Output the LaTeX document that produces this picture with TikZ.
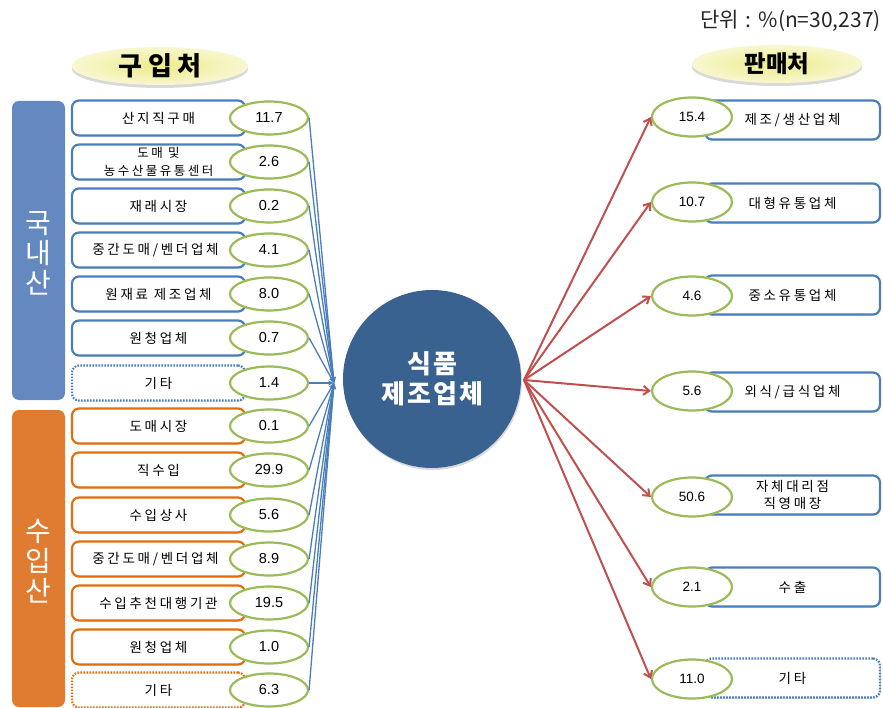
\documentclass[tikz,border=0pt]{standalone}
\usepackage{fontspec}
\setmainfont{Liberation Sans}
\newfontfamily\kr{Noto Sans CJK KR}
\newfontfamily\krs[LetterSpace=20]{Noto Sans CJK KR}
\newfontfamily\krc[LetterSpace=8]{Noto Sans CJK KR}
\usetikzlibrary{shapes.geometric,arrows.meta,shadows}
\definecolor{boxblue}{HTML}{4A7EBB}
\definecolor{boxorange}{HTML}{E46C0A}
\definecolor{barblue}{HTML}{6489C0}
\definecolor{barorange}{HTML}{E07C32}
\definecolor{valgreen}{HTML}{9BBB59}
\definecolor{linkblue}{HTML}{4A7EBB}
\definecolor{linkred}{HTML}{C0504D}
\definecolor{circblue}{HTML}{3A6291}
\definecolor{titleyel}{HTML}{EDEB8A}
\newcommand\labfont{\krs\fontsize{13.5}{17}\selectfont}
\newcommand\numfontL{\fontsize{14.5}{16}\selectfont}
\newcommand\numfontR{\fontsize{13.5}{15}\selectfont}
\begin{document}
\begin{tikzpicture}[x=1pt,y=-1pt,
  lbox/.style={draw=boxblue,line width=2.2pt,rounded corners=7pt,fill=white,
    minimum width=173pt,minimum height=35pt,inner sep=0pt,align=center,font=\labfont,
    drop shadow={opacity=0.25,shadow xshift=0.8pt,shadow yshift=-1.2pt}},
  obox/.style={lbox,draw=boxorange},
  rbox/.style={lbox,minimum width=175pt,minimum height=39pt},
  dotline/.style={dash pattern=on 1.6pt off 1.4pt},
  lval/.style={ellipse,draw=valgreen,line width=2.2pt,fill=white,minimum width=78pt,
    minimum height=33pt,inner sep=0pt,font=\numfontL},
  rval/.style={lval,minimum width=80pt,minimum height=39pt,font=\numfontR},
  sidebar/.style={rounded corners=7pt,minimum width=53pt,inner sep=0pt},
  bartext/.style={text=white,align=center,font=\kr\fontsize{28}{30}\selectfont},
  titell/.style={ellipse,inner color=titleyel,outer color=titleyel!40!white,
    minimum width=176pt,minimum height=38pt,inner sep=0pt,
    drop shadow={opacity=0.3,shadow xshift=0pt,shadow yshift=-3pt}},
  bline/.style={draw=linkblue,line width=1.3pt,-{Stealth[length=6pt,width=5pt]}},
  rline/.style={draw=linkred,line width=2pt,-{Straight Barb[length=6pt,width=9pt]}}
]
\useasboundingbox (0,0) rectangle (883,708);

% header
\node[anchor=east,text=black!85,font=\kr\fontsize{21}{24}\selectfont,inner sep=0pt] (unit) at (881,21) {단위\,\,:\,\,\%(n=30,237)};

% titles
\node[titell,font=\kr\bfseries\fontsize{26}{28}\selectfont] (buy) at (160,66) {구 입 처};
\node[titell,minimum width=170pt,font=\kr\bfseries\fontsize{23.5}{26}\selectfont] (sell) at (777,64) {판매처};

% side bars
\node[sidebar,fill=barblue,minimum height=299pt] (dom) at (38.5,250.5) {};
\node[bartext] (domt) at (38.5,253) {국\\내\\산};
\node[sidebar,fill=barorange,minimum height=297pt] (imp) at (38.5,558.5) {};
\node[bartext] (impt) at (38.5,561) {수\\입\\산};

% left boxes
\node[lbox] (lb1) at (158.5,118) {산지직구매};
\node[lbox,font=\krs\fontsize{12.5}{17.5}\selectfont] (lb2) at (158.5,162) {도매 및\\농수산물유통센터};
\node[lbox] (lb3) at (158.5,206) {재래시장};
\node[lbox] (lb4) at (158.5,250) {중간도매/벤더업체\hspace*{6pt}};
\node[lbox] (lb5) at (158.5,294) {원재료 제조업체};
\node[lbox] (lb6) at (158.5,338) {원청업체};
\node[lbox,dotline] (lb7) at (158.5,383) {기타};
\node[obox] (lb8) at (158.5,426) {도매시장};
\node[obox] (lb9) at (158.5,470) {직수입};
\node[obox] (lb10) at (158.5,515) {수입상사};
\node[obox] (lb11) at (158.5,559) {중간도매/벤더업체\hspace*{6pt}};
\node[obox] (lb12) at (158.5,603) {수입추천대행기관};
\node[obox] (lb13) at (158.5,647) {원청업체};
\node[obox,dotline] (lb14) at (158.5,690) {기타};

% left values
\node[lval] (l1) at (269,118) {11.7};
\node[lval] (l2) at (269,162) {2.6};
\node[lval] (l3) at (269,206) {0.2};
\node[lval] (l4) at (269,250) {4.1};
\node[lval] (l5) at (269,294) {8.0};
\node[lval] (l6) at (269,338) {0.7};
\node[lval] (l7) at (269,383) {1.4};
\node[lval] (l8) at (269,426) {0.1};
\node[lval] (l9) at (269,470) {29.9};
\node[lval] (l10) at (269,515) {5.6};
\node[lval] (l11) at (269,559) {8.9};
\node[lval] (l12) at (269,603) {19.5};
\node[lval] (l13) at (269,647) {1.0};
\node[lval] (l14) at (269,690) {6.3};

% centre
\node[circle,fill=circblue,minimum size=178pt,inner sep=0pt,text=white,align=center,
  font=\krc\bfseries\fontsize{26}{30}\selectfont,
  drop shadow={opacity=0.3,shadow xshift=1pt,shadow yshift=-2pt}] (food) at (432,379) {식품\\제조업체};
\coordinate (cin) at (334,383);
\coordinate (rs) at (524,380);

\foreach \i in {1,...,14} \draw[bline] (l\i.east) -- (cin);

% right boxes
\node[rbox] (rb1) at (792.5,120) {제조/생산업체};
\node[rbox] (rb2) at (792.5,203) {대형유통업체};
\node[rbox] (rb3) at (792.5,295) {중소유통업체};
\node[rbox] (rb4) at (792.5,392) {외식/급식업체};
\node[rbox,font=\krs\fontsize{13.5}{16.5}\selectfont] (rb5) at (792.5,495) {자체대리점\\직영매장};
\node[rbox] (rb6) at (792.5,587) {수출};
\node[rbox,dotline] (rb7) at (792.5,678) {기타};

% right values
\node[rval] (r1) at (692,117) {15.4};
\node[rval] (r2) at (692,202) {10.7};
\node[rval] (r3) at (692,296) {4.6};
\node[rval] (r4) at (692,391) {5.6};
\node[rval] (r5) at (692,497) {50.6};
\node[rval] (r6) at (692,587) {2.1};
\node[rval] (r7) at (692,679) {11.0};

\foreach \i in {1,...,7} \draw[rline] (rs) -- (r\i.west);
\end{tikzpicture}
\end{document}
